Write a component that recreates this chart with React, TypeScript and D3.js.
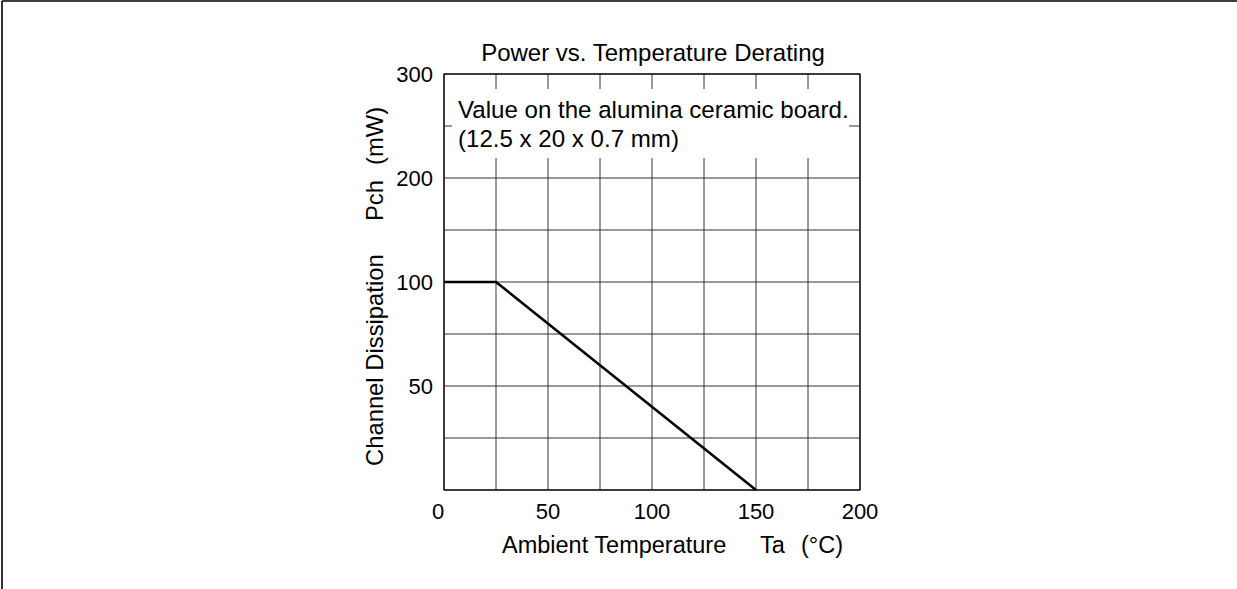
import React from "react";
import * as d3 from "d3";

const temps = [0, 25, 150];
const power = [100, 100, 0];
const xGridValues = [0, 25, 50, 75, 100, 125, 150, 175, 200];
const yGridValues = [0, 25, 50, 75, 100, 150, 200, 250, 300];
const xTickLabels = [50, 100, 150, 200];
const yTickLabels = [300, 200, 100, 50];
const title = "Power vs. Temperature Derating";
const note1 = "Value on the alumina ceramic board.";
const note2 = "(12.5 x 20 x 0.7 mm)";

const W = 1237;
const H = 589;
const FONT = "'Liberation Sans', Arial, Helvetica, sans-serif";

export default function App() {
  const x = d3.scaleLinear().domain([0, 200]).range([444, 860]);
  const y = d3.scaleLinear().domain([0, 100, 300]).range([490, 282, 74]);
  const line = d3
    .line<number>()
    .x((_, i) => x(temps[i]))
    .y((d) => y(d));

  return (
    <svg
      width={W}
      height={H}
      style={{ position: "absolute", left: 0, top: 0, background: "#fff" }}
      fontFamily={FONT}
    >
      <rect x={0} y={0} width={W} height={H} fill="#fff" />
      <line x1={2} y1={1} x2={W} y2={1} stroke="#000" strokeWidth={1.6} />
      <line x1={2} y1={1} x2={2} y2={H} stroke="#000" strokeWidth={1.6} />

      <text x={653} y={61} fontSize={24} textAnchor="middle" fill="#000">
        {title}
      </text>

      {xGridValues.map((v) => (
        <line key={"vx" + v} x1={x(v)} x2={x(v)} y1={y(300)} y2={y(0)} stroke="#333" strokeWidth={1} />
      ))}
      {yGridValues.map((v) => (
        <line key={"hy" + v} x1={x(0)} x2={x(200)} y1={y(v)} y2={y(v)} stroke="#333" strokeWidth={1} />
      ))}

      <rect x={452} y={89} width={397} height={69} fill="#fff" />
      <text x={458} y={118} fontSize={24.1} fill="#000">{note1}</text>
      <text x={458} y={147} fontSize={24.1} fill="#000">{note2}</text>

      <rect x={x(0)} y={y(300)} width={x(200) - x(0)} height={y(0) - y(300)} fill="none" stroke="#000" strokeWidth={1.2} />

      <path d={line(power) || ""} fill="none" stroke="#000" strokeWidth={2.6} strokeLinejoin="miter" />

      {yTickLabels.map((v) => (
        <text key={"yl" + v} x={433} y={y(v) + 8} fontSize={22} textAnchor="end" fill="#000">
          {v}
        </text>
      ))}
      <text x={x(0) - 6} y={519} fontSize={22} textAnchor="middle" fill="#000">0</text>
      {xTickLabels.map((v) => (
        <text key={"xl" + v} x={x(v)} y={519} fontSize={22} textAnchor="middle" fill="#000">
          {v}
        </text>
      ))}

      <text y={553} fontSize={23.5} fill="#000">
        <tspan x={502}>Ambient Temperature</tspan>
        <tspan x={760}>Ta</tspan>
        <tspan x={801}>(°C)</tspan>
      </text>
      <text transform="translate(383,466) rotate(-90)" y={0} fontSize={23.8} fill="#000">
        <tspan x={0}>Channel Dissipation</tspan>
        <tspan x={245}>Pch</tspan>
        <tspan x={301}>(mW)</tspan>
      </text>
    </svg>
  );
}
